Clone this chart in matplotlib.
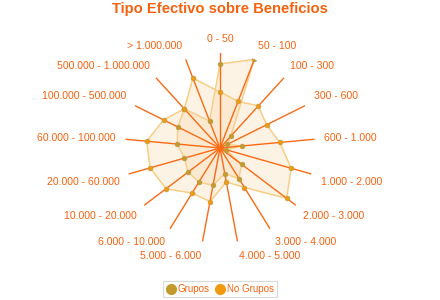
import numpy as np
import matplotlib.pyplot as plt
from matplotlib.lines import Line2D

plt.rcParams['font.family'] = ['Liberation Sans', 'DejaVu Sans']

categories = ['0 - 50', '50 - 100', '100 - 300', '300 - 600', '600 - 1.000',
              '1.000 - 2.000', '2.000 - 3.000', '3.000 - 4.000', '4.000 - 5.000',
              '5.000 - 6.000', '6.000 - 10.000', '10.000 - 20.000',
              '20.000 - 60.000', '60.000 - 100.000', '100.000 - 500.000',
              '500.000 - 1.000.000', '> 1.000.000']

grupos = [84, 95, 16, 8, 22, 6.5, 27, 36, 26, 38, 40, 40, 37, 43, 47, 53, 29]
no_grupos = [56, 50, 57, 52, 60, 74, 83.5, 46.5, 34.5, 54.5, 53, 67.6, 72.7, 73.6, 63, 53, 75]

series_names = ['Grupos', 'No Grupos']
marker_colors = ['#c49a2c', '#f09a10']

orange = '#f5620f'

fig = plt.figure(figsize=(4.4, 3.0), dpi=100)
ax = fig.add_axes([125 / 440, 57 / 300, 190 / 440, 190 / 300], projection='polar')
ax.set_theta_zero_location('N')
ax.set_theta_direction(-1)

n = len(categories)
theta = np.arange(n) * 2 * np.pi / n
rmax = max(max(grupos), max(no_grupos))

# spokes
for t in theta:
    ax.plot([t, t], [0, rmax], color='#fa6a14', lw=1.0, zorder=3)

for vals, mc in zip([grupos, no_grupos], marker_colors):
    t = np.append(theta, theta[0])
    v = np.append(vals, vals[0])
    ax.fill(t, v, color='#f9d6a0', alpha=0.28, zorder=2)
    ax.plot(t, v, color='#f9cc80', lw=1.0, zorder=2)
    ax.plot(theta, vals, 'o', ms=3.5, color=mc, mec='#b89a50', mew=0.4, zorder=4)

# category labels
for t, lab in zip(theta, categories):
    x, y = np.sin(t), np.cos(t)
    ha = 'left' if x > 0.1 else ('right' if x < -0.1 else 'center')
    va = 'bottom' if y > 0.1 else ('top' if y < -0.1 else 'center')
    ax.text(t, rmax * 1.1, lab, ha=ha, va=va, fontsize=7.6, color=orange)

ax.set_ylim(0, rmax)
ax.set_xticks([])
ax.set_yticks([])
ax.grid(False)
ax.spines['polar'].set_visible(False)
ax.patch.set_alpha(0)

fig.text(0.5, 0.97, 'Tipo Efectivo sobre Beneficios', ha='center', va='center',
         fontsize=10.6, fontweight='bold', color=orange)

handles = [Line2D([], [], marker='o', ls='', ms=7, color=c, mec=c) for c in marker_colors]
leg = fig.legend(handles, series_names, loc='center', bbox_to_anchor=(0.5, 1 - 289 / 300),
                 ncol=2, fontsize=7, frameon=True, fancybox=False, handletextpad=0.2,
                 columnspacing=0.6, borderpad=0.35, handlelength=1.0)
leg.get_frame().set_edgecolor('#d0d0d0')
leg.get_frame().set_linewidth(0.8)
for txt in leg.get_texts():
    txt.set_color(orange)

fig.savefig('out.png', dpi=100)
